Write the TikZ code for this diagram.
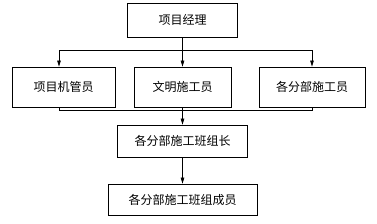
\documentclass[tikz,border=0pt]{standalone}
\usepackage{fontspec}
\newfontfamily\cjk{Noto Sans CJK SC}
\usetikzlibrary{arrows.meta}

\begin{document}
\begin{tikzpicture}[x=1pt, y=-1pt,
    box/.style={draw, line width=0.7pt, inner sep=0pt, font=\cjk\fontsize{12}{14}\selectfont},
    arr/.style={-{Triangle[length=6pt, width=3.5pt]}},
    every path/.style={line width=0.7pt}]
    \useasboundingbox (0,0) rectangle (377,224);

    % ===== Boxes =====
    \node[box, minimum width=110pt, minimum height=34pt] (pm) at (182.5,20) {项目经理};
    \node[box, minimum width=103pt, minimum height=40pt] (mech) at (63.5,87) {项目机管员};
    \node[box, minimum width=97pt, minimum height=40pt] (civ) at (182.5,87) {文明施工员};
    \node[box, minimum width=106pt, minimum height=40pt] (sub) at (312,87) {各分部施工员};
    \node[box, minimum width=130pt, minimum height=32pt] (lead) at (182.5,141) {各分部施工班组长};
    \node[box, minimum width=149pt, minimum height=31pt] (crew) at (182.5,199.5) {各分部施工班组成员};

    % ===== Upper branch =====
    \coordinate (split) at (182.5,50);
    \draw (pm) -- (split);
    \draw[arr] (split) -| ([xshift=-4.5pt]mech.north);
    \draw[arr] (split) -- (civ);
    \draw[arr] (split) -| (sub.north);

    % ===== Lower merge =====
    \coordinate (merge) at (182.5,110);
    \draw ([xshift=-4.5pt]mech.south) |- (merge);
    \draw (sub.south) |- (merge);
    \draw[arr] (civ) -- (lead);
    \draw[arr] (lead) -- (crew);
\end{tikzpicture}
\end{document}
